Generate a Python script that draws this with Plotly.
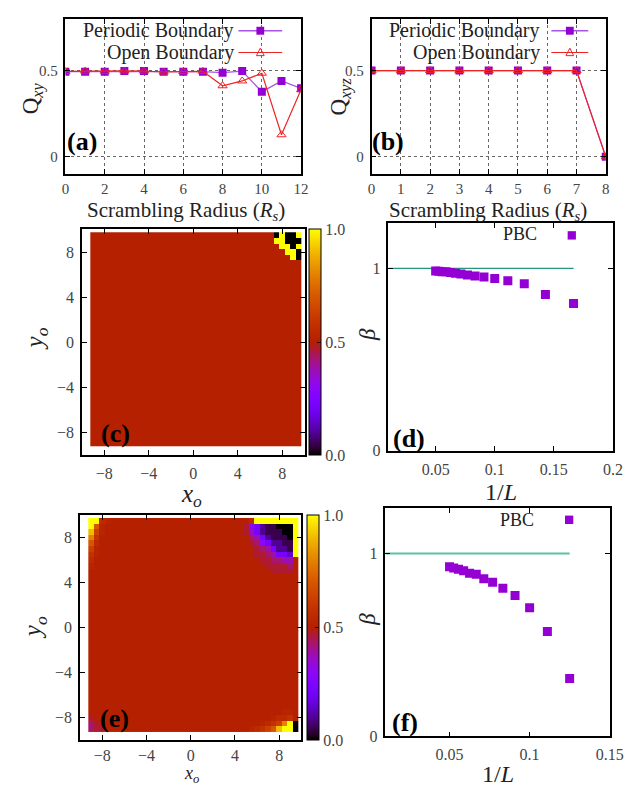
import math
import plotly.graph_objects as go

W, H = 639, 789
FONT = "Liberation Serif, DejaVu Serif, Times New Roman, serif"

# ---------------- data ----------------
rs_a = [0, 1, 2, 3, 4, 5, 6, 7, 8, 9, 10, 11, 12]
q_xy_periodic = [0.494, 0.494, 0.494, 0.497, 0.497, 0.493, 0.494, 0.494, 0.488, 0.497, 0.377, 0.440, 0.397]
q_xy_open = [0.495, 0.497, 0.496, 0.498, 0.497, 0.492, 0.494, 0.496, 0.412, 0.440, 0.485, 0.128, 0.390]

rs_b = [0, 1, 2, 3, 4, 5, 6, 7, 8]
q_xyz_periodic = [0.5, 0.5, 0.5, 0.5, 0.5, 0.5, 0.5, 0.5, 0.0]
q_xyz_open = [0.5, 0.5, 0.5, 0.5, 0.5, 0.5, 0.5, 0.5, 0.0]

inv_L_d = [0.0500, 0.0526, 0.0556, 0.0588, 0.0625, 0.0667, 0.0714, 0.0769,
           0.0833, 0.0909, 0.1000, 0.1111, 0.1250, 0.1429, 0.1667]
beta_d = [0.986, 0.984, 0.982, 0.981, 0.978, 0.973, 0.969, 0.964,
          0.958, 0.953, 0.944, 0.932, 0.915, 0.856, 0.807]

inv_L_f = [0.0500, 0.0526, 0.0556, 0.0588, 0.0625, 0.0667, 0.0714, 0.0769,
           0.0833, 0.0909, 0.1000, 0.1111, 0.1250]
beta_f = [0.928, 0.921, 0.914, 0.906, 0.892, 0.887, 0.863, 0.843,
          0.811, 0.771, 0.703, 0.573, 0.316]
beta_ref = 1.0

x_o = [-9.0, -8.5, -8.0, -7.5, -7.0, -6.5, -6.0, -5.5, -5.0, -4.5, -4.0, -3.5, -3.0,
       -2.5, -2.0, -1.5, -1.0, -0.5, 0.0, 0.5, 1.0, 1.5, 2.0, 2.5, 3.0, 3.5, 4.0,
       4.5, 5.0, 5.5, 6.0, 6.5, 7.0, 7.5, 8.0, 8.5, 9.0, 9.5]
y_o = [-9.0, -8.5, -8.0, -7.5, -7.0, -6.5, -6.0, -5.5, -5.0, -4.5, -4.0, -3.5, -3.0,
       -2.5, -2.0, -1.5, -1.0, -0.5, 0.0, 0.5, 1.0, 1.5, 2.0, 2.5, 3.0, 3.5, 4.0,
       4.5, 5.0, 5.5, 6.0, 6.5, 7.0, 7.5, 8.0, 8.5, 9.0, 9.5]

# value read for each character of the maps below
level = {'0': 0.00, '1': 0.05, '2': 0.10, '3': 0.15, '4': 0.22, '5': 0.30, '6': 0.38,
         'a': 0.43, 'b': 0.47, '.': 0.50, 'c': 0.52, 'e': 0.55, 'f': 0.58,
         'o': 0.63, 'O': 0.70, 'g': 0.80, 'h': 0.90, 'Y': 1.00}

B = "......................................"
# rows from top (y=9.5) to bottom (y=-9.0)
rows_c = [
    "....""........................"".....0Y00Y",
    "....""........................"".....YY000",
    "....""........................""......YY0Y",
    "....""........................"".......YY0",
    "....""........................""........Y0",
    B, B, B, B, B, B, B, B, B, B, B, B, B, B, B, B, B, B, B, B, B,
    B, B, B, B, B, B, B, B, B, B, B, B,
]
rows_e = [
    "YYec""........................"".eYYYYYYYY",
    "YOc.""........................""b54211000Y",
    "hoc.""........................""b64211100Y",
    "gf..""........................"".a6421110Y",
    "Oe..""........................"".ba542211Y",
    "oc..""........................""..ba64221Y",
    "fc..""........................""..bba6443Y",
    "e...""........................""...bbaa66.",
    "c...""........................""....bbbba.",
    "....""........................"".....bbbb.",
    B, B, B, B, B, B, B, B, B, B, B, B, B, B, B, B, B, B, B, B, B, B, B, B,
    "....""........................"".......cc.",
    "b...""........................"".....ceef.",
    "ab..""........................""...cefogY0",
    "abb.""........................"".cefoOhYY0",
]
assert len(rows_c) == 38 and len(rows_e) == 38
assert all(len(r) == 38 for r in rows_c + rows_e)

z_c = [[level[ch] for ch in row] for row in reversed(rows_c)]
z_e = [[level[ch] for ch in row] for row in reversed(rows_e)]


# gnuplot default palette (rgbformulae 7,5,15)
def gp(t):
    r = math.sqrt(t)
    g = t ** 3
    b = max(0.0, math.sin(2 * math.pi * t))
    return "rgb(%d,%d,%d)" % (round(255 * r), round(255 * g), round(255 * b))


cscale = [[i / 40, gp(i / 40)] for i in range(41)]


def px(x):
    return x / W


def py(y):
    return 1 - y / H


PURPLE = "#9400d3"
PLINE = "#a854e8"
RED = "#ee2424"

fig = go.Figure()

# (a)
fig.add_trace(go.Scatter(x=rs_a, y=q_xy_periodic, mode="lines+markers", xaxis="x", yaxis="y",
                         line=dict(color=PLINE, width=1.3),
                         marker=dict(symbol="square", size=8, color=PURPLE), showlegend=False))
fig.add_trace(go.Scatter(x=rs_a, y=q_xy_open, mode="lines+markers", xaxis="x", yaxis="y",
                         line=dict(color=RED, width=1.2),
                         marker=dict(symbol="triangle-up-open", size=8, color=RED, line=dict(width=1)),
                         showlegend=False))
# (b)
fig.add_trace(go.Scatter(x=rs_b, y=q_xyz_periodic, mode="lines+markers", xaxis="x2", yaxis="y2",
                         line=dict(color=PLINE, width=1.3),
                         marker=dict(symbol="square", size=8, color=PURPLE), showlegend=False))
fig.add_trace(go.Scatter(x=rs_b, y=q_xyz_open, mode="lines+markers", xaxis="x2", yaxis="y2",
                         line=dict(color=RED, width=1.2),
                         marker=dict(symbol="triangle-up-open", size=8, color=RED, line=dict(width=1)),
                         showlegend=False))

cb_common = dict(thickness=11.5, thicknessmode="pixels", lenmode="fraction", xanchor="left",
                 yanchor="top", outlinewidth=1, outlinecolor="black", xpad=0, ypad=0,
                 tickvals=[0, 0.5, 1], ticktext=["0.0", "0.5", "1.0"], ticks="inside",
                 ticklen=4, tickcolor="black",
                 tickfont=dict(family=FONT, size=16, color="#444"))
# (c)
fig.add_trace(go.Heatmap(x=x_o, y=y_o, z=z_c, colorscale=cscale, zmin=0, zmax=1,
                         xaxis="x3", yaxis="y3", hoverinfo="skip",
                         colorbar=dict(x=px(305.7), y=py(224), len=(452.3 - 224) / H, **cb_common)))
# (e)
fig.add_trace(go.Heatmap(x=x_o, y=y_o, z=z_e, colorscale=cscale, zmin=0, zmax=1,
                         xaxis="x5", yaxis="y5", hoverinfo="skip",
                         colorbar=dict(x=px(304), y=py(513), len=(740.5 - 513) / H, **cb_common)))

# (d)
xr_d = [0.01, 0.2]
fig.add_trace(go.Scatter(x=[xr_d[0], max(inv_L_d)], y=[beta_ref, beta_ref], mode="lines",
                         xaxis="x4", yaxis="y4", line=dict(color="#23977f", width=1.3), showlegend=False))
fig.add_trace(go.Scatter(x=inv_L_d, y=beta_d, mode="markers", xaxis="x4", yaxis="y4",
                         marker=dict(symbol="square", size=9, color=PURPLE), showlegend=False))
# (f)
xr_f = [0.01, 0.15]
fig.add_trace(go.Scatter(x=[xr_f[0], max(inv_L_f)], y=[beta_ref, beta_ref], mode="lines",
                         xaxis="x6", yaxis="y6", line=dict(color="#5cc2a7", width=2), showlegend=False))
fig.add_trace(go.Scatter(x=inv_L_f, y=beta_f, mode="markers", xaxis="x6", yaxis="y6",
                         marker=dict(symbol="square", size=9, color=PURPLE), showlegend=False))

base = dict(showline=True, linecolor="black", linewidth=1.5, mirror="ticks", ticks="inside",
            ticklen=5, tickcolor="black", tickwidth=1, zeroline=False, showgrid=False,
            fixedrange=True, ticklabelstandoff=3)
grid = dict(showgrid=True, gridcolor="#666", griddash="dot", gridwidth=1)
tf15 = dict(family=FONT, size=15, color="#444")
tf16 = dict(family=FONT, size=16, color="#444")

fig.update_layout(
    width=W, height=H, autosize=False, margin=dict(l=0, r=0, t=0, b=0),
    paper_bgcolor="white", plot_bgcolor="white", showlegend=False,
    font=dict(family=FONT),
    xaxis=dict(base, **grid, domain=[px(55), px(297.5)], range=[0, 12], tickvals=[0, 2, 4, 6, 8, 10, 12],
               anchor="y", tickfont=tf15, ticklabelstandoff=0),
    yaxis=dict(base, **grid, domain=[py(168), py(11)], range=[-0.1, 0.8], tickvals=[0, 0.5],
               ticktext=["0", "0.5"], anchor="x", tickfont=tf15),
    xaxis2=dict(base, **grid, domain=[px(370), px(611)], range=[0, 8], tickvals=[0, 1, 2, 3, 4, 5, 6, 7, 8],
                anchor="y2", tickfont=tf15, ticklabelstandoff=0),
    yaxis2=dict(base, **grid, domain=[py(168), py(11)], range=[-0.1, 0.8], tickvals=[0, 0.5],
                ticktext=["0", "0.5"], anchor="x2", tickfont=tf15),
    xaxis3=dict(base, domain=[px(72), px(301)], range=[-10, 10], tickvals=[-8, -4, 0, 4, 8],
                anchor="y3", tickfont=tf16),
    yaxis3=dict(base, domain=[py(452.3), py(224)], range=[-10, 10], tickvals=[-8, -4, 0, 4, 8],
                anchor="x3", tickfont=tf16),
    xaxis4=dict(base, domain=[px(387.3), px(618.3)], range=xr_d, tickvals=[0.05, 0.1, 0.15, 0.2],
                ticktext=["0.05", "0.1", "0.15", "0.2"], anchor="y4", tickfont=tf16),
    yaxis4=dict(base, domain=[py(447.7), py(217.3)], range=[0, 1.25], tickvals=[0, 1],
                ticktext=["0", "1"], anchor="x4", tickfont=tf16),
    xaxis5=dict(base, domain=[px(70), px(297.7)], range=[-10, 10], tickvals=[-8, -4, 0, 4, 8],
                anchor="y5", tickfont=tf16, ticklabelstandoff=0),
    yaxis5=dict(base, domain=[py(740.5), py(513)], range=[-10, 10], tickvals=[-8, -4, 0, 4, 8],
                anchor="x5", tickfont=tf16),
    xaxis6=dict(base, domain=[px(384.3), px(615)], range=xr_f, tickvals=[0.05, 0.1, 0.15],
                ticktext=["0.05", "0.1", "0.15"], anchor="y6", tickfont=tf16),
    yaxis6=dict(base, domain=[py(736.7), py(505.7)], range=[0, 1.25], tickvals=[0, 1],
                ticktext=["0", "1"], anchor="x6", tickfont=tf16),
)

ann = []


def A(text, x, y, size, xanchor="center", yanchor="middle", angle=0, color="#222"):
    ann.append(dict(text=text, x=px(x), y=py(y), xref="paper", yref="paper", showarrow=False,
                    xanchor=xanchor, yanchor=yanchor, textangle=angle,
                    font=dict(family=FONT, size=size, color=color)))


# legends (a), (b)
for right in (230, 545.7):
    A("Periodic Boundary", right, 23, 20, xanchor="right")
    A("Open Boundary", right, 45, 20, xanchor="right")
A("Q<sub><i>xy</i></sub>", 22, 91, 23, angle=-90)
A("Q<sub><i>xyz</i></sub>", 339, 89, 23, angle=-90)
A("Scrambling Radius (<i>R<sub>s</sub></i>)", 179, 205, 21)
A("Scrambling Radius (<i>R<sub>s</sub></i>)", 490, 205, 21)
A("<b>(a)</b>", 72, 135, 26, color="black")
A("<b>(b)</b>", 387, 135, 26, color="black")
A("<b>(c)</b>", 106, 430, 26, color="black")
A("<b>(d)</b>", 408, 435, 26, color="black")
A("<b>(e)</b>", 105, 719, 26, color="black")
A("<b>(f)</b>", 404, 723, 26, color="black")
A("<i>x<sub>o</sub></i>", 185, 493, 25)
A("<i>y<sub>o</sub></i>", 25, 335, 25, angle=-90)
A("<i>x<sub>o</sub></i>", 185, 789, 18, yanchor="bottom")
A("<i>y<sub>o</sub></i>", 24, 627, 25, angle=-90)
A("<i>β</i>", 366, 330, 23, angle=-90)
A("<i>β</i>", 366, 618, 23, angle=-90)
A("1/<i>L</i>", 503, 490, 24)
A("1/<i>L</i>", 500, 775, 24)
A("PBC", 523, 229, 18)
A("PBC", 520, 518, 18)
fig.update_layout(annotations=ann)

# legend samples (decoration)
shapes = []


def seg(x0, x1, y, color, width):
    shapes.append(dict(type="line", xref="paper", yref="paper", x0=px(x0), x1=px(x1), y0=py(y), y1=py(y),
                       line=dict(color=color, width=width)))


def sq(cx, cy, s, color):
    shapes.append(dict(type="rect", xref="paper", yref="paper", x0=px(cx - s / 2), x1=px(cx + s / 2),
                       y0=py(cy + s / 2), y1=py(cy - s / 2), fillcolor=color, line=dict(width=0)))


def tri(cx, cy, s, color):
    p = "M %f %f L %f %f L %f %f Z" % (px(cx), py(cy - s * 0.55), px(cx - s / 2), py(cy + s * 0.4),
                                        px(cx + s / 2), py(cy + s * 0.4))
    shapes.append(dict(type="path", xref="paper", yref="paper", path=p, line=dict(color=color, width=1)))


for (l0, l1) in ((233, 278), (555, 593)):
    c = (l0 + l1) / 2
    seg(l0, l1, 23, PLINE, 1.5)
    sq(c, 23, 8, PURPLE)
    seg(l0, l1, 45, RED, 1.2)
    tri(c, 45, 8, RED)
sq(576, 230, 8.5, PURPLE)
sq(573.3, 517.7, 8.5, PURPLE)
fig.update_layout(shapes=shapes)

fig.write_html("out.html")
